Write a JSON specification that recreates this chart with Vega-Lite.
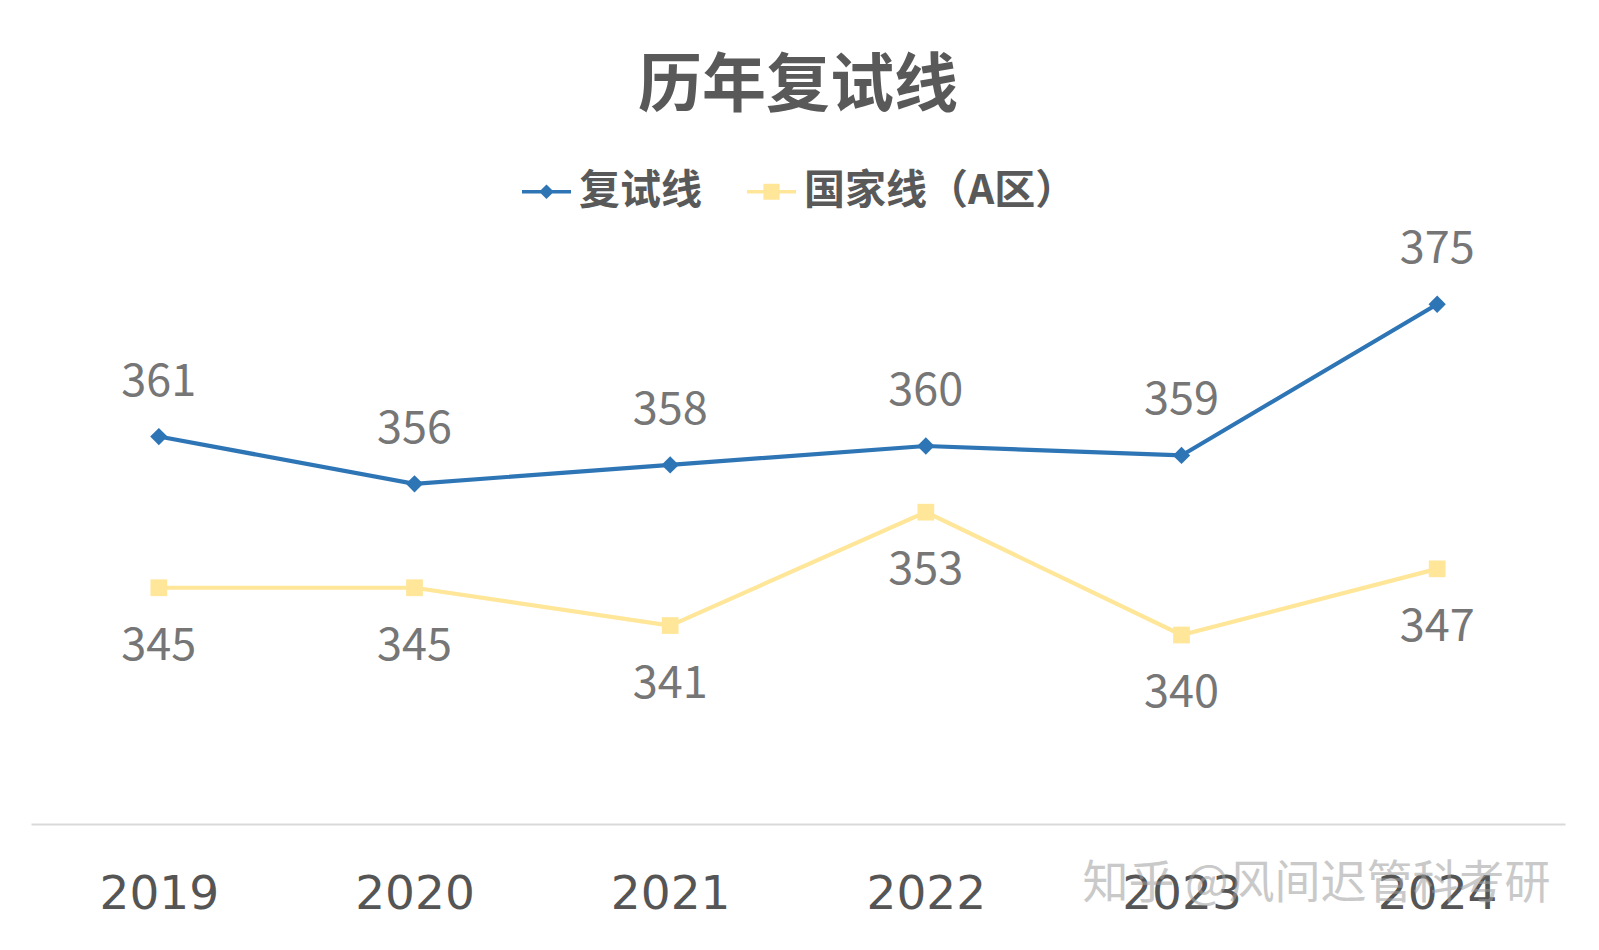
{
  "$schema": "https://vega.github.io/schema/vega-lite/v6.json",
  "width": 1534,
  "height": 567,
  "autosize": {"type": "none"},
  "padding": {"left": 31, "top": 257, "right": 34, "bottom": 126},
  "background": "white",
  "config": {"view": {"stroke": null}, "font": "Noto Sans CJK SC"},
  "title": {"text": "历年复试线", "fontSize": 64, "fontWeight": "bold", "color": "#595959", "anchor": "middle", "offset": 48, "font": "Noto Sans CJK SC"},
  "data": {
    "values": [
      {"year": "2019", "series": "复试线", "value": 361},
      {"year": "2020", "series": "复试线", "value": 356},
      {"year": "2021", "series": "复试线", "value": 358},
      {"year": "2022", "series": "复试线", "value": 360},
      {"year": "2023", "series": "复试线", "value": 359},
      {"year": "2024", "series": "复试线", "value": 375},
      {"year": "2019", "series": "国家线（A区）", "value": 345},
      {"year": "2020", "series": "国家线（A区）", "value": 345},
      {"year": "2021", "series": "国家线（A区）", "value": 341},
      {"year": "2022", "series": "国家线（A区）", "value": 353},
      {"year": "2023", "series": "国家线（A区）", "value": 340},
      {"year": "2024", "series": "国家线（A区）", "value": 347}
    ]
  },
  "encoding": {
    "x": {"field": "year", "type": "ordinal", "scale": {"type": "point", "padding": 0.5},
      "axis": {"title": null, "labelAngle": 0, "ticks": false, "domainColor": "#d9d9d9", "domainWidth": 2, "labelFontSize": 47, "labelFontWeight": "normal", "labelColor": "#555555", "labelPadding": 47, "labelFont": "DejaVu Sans"}},
    "y": {"field": "value", "type": "quantitative", "scale": {"domain": [320, 380], "nice": false, "zero": false}, "axis": null}
  },
  "layer": [
    {
      "mark": {"type": "line", "strokeWidth": 4.2, "clip": false},
      "encoding": {
        "color": {"field": "series", "type": "nominal", "scale": {"domain": ["复试线", "国家线（A区）"], "range": ["#2E75B6", "#FFE699"]},
          "legend": {"orient": "none", "legendX": 491, "legendY": -90, "direction": "horizontal", "title": null, "labelFontSize": 41, "labelFontWeight": "bold", "labelColor": "#595959", "labelFont": "Noto Sans CJK SC", "labelLimit": 500, "columnPadding": 45, "labelOffset": 8, "symbolSize": 2400, "symbolType": "M-1,-0.07H1V0.07H-1Z M0,-0.3L0.3,0L0,0.3L-0.3,0Z", "symbolStrokeWidth": 0, "symbolOpacity": 1,
            "encode": {"symbols": {"update": {"shape": {"signal": "datum.value === '复试线' ? 'M-1,-0.07H1V0.07H-1Z M0,-0.3L0.3,0L0,0.3L-0.3,0Z' : 'M-1,-0.07H1V0.07H-1Z M-0.33,-0.33H0.33V0.33H-0.33Z'"}, "fill": {"signal": "datum.value === '复试线' ? '#2E75B6' : '#FFE699'"}, "strokeWidth": {"value": 0}}}}}}
      }
    },
    {
      "transform": [{"filter": "datum.series === '复试线'"}],
      "mark": {"type": "point", "shape": "diamond", "size": 300, "filled": true, "opacity": 1, "clip": false, "color": "#2E75B6"}
    },
    {
      "transform": [{"filter": "datum.series !== '复试线'"}],
      "mark": {"type": "point", "shape": "square", "size": 280, "filled": true, "opacity": 1, "clip": false, "color": "#FFE699"}
    },
    {
      "transform": [{"filter": "datum.series === '复试线'"}],
      "mark": {"type": "text", "dy": -55, "fontSize": 45, "color": "#767676", "font": "Noto Sans CJK SC", "baseline": "middle", "clip": false},
      "encoding": {"text": {"field": "value", "type": "quantitative"}}
    },
    {
      "transform": [{"filter": "datum.series !== '复试线'"}],
      "mark": {"type": "text", "dy": 58, "fontSize": 45, "color": "#767676", "font": "Noto Sans CJK SC", "baseline": "middle", "clip": false},
      "encoding": {"text": {"field": "value", "type": "quantitative"}}
    },
    {
      "data": {"values": [{"year": "2023", "value": 313.7, "label": "知乎 @风间迟管科考研"}]},
      "mark": {"type": "text", "dx": 135, "fontSize": 46, "color": "#9e9e9e", "opacity": 0.55, "font": "Noto Sans CJK SC", "baseline": "middle", "clip": false},
      "encoding": {"text": {"field": "label", "type": "nominal"}}
    }
  ]
}
